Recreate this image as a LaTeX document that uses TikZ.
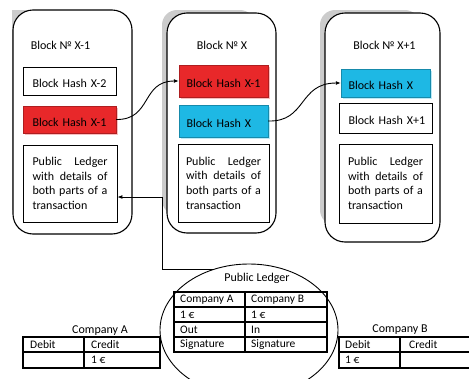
\documentclass[tikz,border=0pt]{standalone}
\usepackage{fontspec}
\setmainfont{Carlito}
\usetikzlibrary{arrows.meta,shapes.geometric,shadows}
\definecolor{hashred}{RGB}{232,40,42}
\definecolor{hashblue}{RGB}{30,184,228}
\begin{document}
\begin{tikzpicture}[x=1pt,y=-1pt,
  font=\fontsize{12}{14.7}\selectfont,
  blockbox/.style={draw, line width=1.1pt, rounded corners=20pt, fill=white},
  blockshadow/.style={fill=gray!40},
  hashbox/.style={draw, line width=0.8pt, inner ysep=0pt, text width=74pt,
    text height=13pt, text depth=0pt, align=left},
  redhash/.style={hashbox, fill=hashred, draw=hashred!75!black, line width=0.4pt,
    drop shadow={shadow xshift=1.5pt, shadow yshift=-1.5pt, fill=hashred!30, opacity=1}},
  bluehash/.style={hashbox, fill=hashblue, draw=hashblue!75!black, line width=0.4pt,
    drop shadow={shadow xshift=1.5pt, shadow yshift=-1.5pt, fill=hashblue!30, opacity=1}},
  ledgerbox/.style={draw, line width=0.8pt, text width=75pt, inner xsep=8pt,
    minimum height=77pt, align=left},
  conn/.style={line width=0.9pt, -{Latex[length=5pt,width=4pt]}},
  tbl/.style={line width=1.4pt},
  cell/.style={inner sep=0pt, anchor=west, font=\fontsize{11.5}{13}\selectfont},
  ttl/.style={inner sep=0pt}
]
\useasboundingbox (0,0) rectangle (469,378);

% block shadows
\fill[blockshadow] (11.5,9.5) rectangle (110,210);
\fill[blockshadow, rounded corners=15pt] (162,10) rectangle (255,215);
\fill[blockshadow, rounded corners=15pt] (320,10) rectangle (420,225);

% blocks
\node[blockbox, minimum width=119pt, minimum height=224pt] (b1) at (72.5,122) {};
\node[blockbox, minimum width=109pt, minimum height=220pt] (b2) at (221.5,123) {};
\node[blockbox, minimum width=115pt, minimum height=229pt] (b3) at (382.5,127.5) {};

% titles
\node[ttl] (t1) at (60.5,45) {Block № X-1};
\node[ttl] (t2) at (222,45) {Block № X};
\node[ttl] (t3) at (384.5,45) {Block № X+1};

% block 1
\node[hashbox, inner xsep=9.5pt, minimum height=28pt] (h1a) at (69.5,81) {\mbox{Block Hash X-2}};
\node[redhash, inner xsep=9.5pt, minimum height=27pt] (h1b) at (69.5,119.5) {\mbox{Block Hash X-1}};
\node[ledgerbox, minimum width=94pt] (l1) at (70,183.5)
  {Public\hfill Ledger\\ with\hfill details\hfill of\\ both\hfill parts\hfill of\hfill a\\ transaction};

% block 2
\node[redhash, inner xsep=7.5pt, minimum height=32pt] (h2a) at (223.5,81) {\mbox{Block Hash X-1}};
\node[bluehash, inner xsep=7.5pt, minimum height=32pt] (h2b) at (223.5,121) {\mbox{Block Hash X}};
\node[ledgerbox, minimum width=91pt, minimum height=78pt] (l2) at (223.5,183)
  {Public\hfill Ledger\\ with\hfill details\hfill of\\ both\hfill parts\hfill of\hfill a\\ transaction};

% block 3
\node[bluehash, inner xsep=7.5pt, minimum height=28pt] (h3a) at (385.5,83) {\mbox{Block Hash X}};
\node[hashbox, inner xsep=9.5pt, minimum height=30pt] (h3b) at (385.5,118) {\mbox{Block Hash X+1}};
\node[ledgerbox, minimum width=93pt, minimum height=79pt] (l3) at (385.5,183.5)
  {Public\hfill Ledger\\ with\hfill details\hfill of\\ both\hfill parts\hfill of\hfill a\\ transaction};

% hash links
\draw[conn] (h1b.east) .. controls (152,120) and (141,81) .. (h2a.west);
\draw[conn] (h2b.east) .. controls (307,122) and (298,83) .. (h3a.west);

% public ledger ellipse
\node[draw, ellipse, line width=0.9pt, minimum width=178pt, minimum height=132pt] (ell) at (249,330) {};
\coordinate (bend) at (162,197);
\draw[conn] (ell.121) -| (bend) -- (bend -| l1.east);

\node[ttl] (plt) at (257,278) {Public Ledger};
\draw[tbl] (174,292) rectangle (327,352);
\draw[tbl] (245,292) -- (245,352);
\draw[tbl] (174,307) -- (327,307) (174,322) -- (327,322) (174,337) -- (327,337);
\node[cell] (pa1) at (180,299.5) {Company A};
\node[cell] (pb1) at (251,299.5) {Company B};
\node[cell] (pa2) at (180,314.5) {1 €};
\node[cell] (pb2) at (251,314.5) {1 €};
\node[cell] (pa3) at (180,329.5) {Out};
\node[cell] (pb3) at (251,329.5) {In};
\node[cell] (pa4) at (180,344.5) {Signature};
\node[cell] (pb4) at (251,344.5) {Signature};

% company A
\node[ttl] (ta) at (100,331) {Company A};
\draw[tbl] (23,337) rectangle (160,368);
\draw[tbl] (84,337) -- (84,368) (23,352) -- (160,352);
\node[cell] (ad) at (30,344.5) {Debit};
\node[cell] (ac) at (91,344.5) {Credit};
\node[cell] (ac2) at (91,360) {1 €};

% company B
\node[ttl] (tb) at (400,330) {Company B};
\draw[tbl] (339,337) rectangle (474,368);
\draw[tbl] (400,337) -- (400,368) (339,352) -- (474,352);
\node[cell] (bd) at (345,344.5) {Debit};
\node[cell] (bc) at (409,344.5) {Credit};
\node[cell] (bd2) at (345,360) {1 €};
\end{tikzpicture}
\end{document}
